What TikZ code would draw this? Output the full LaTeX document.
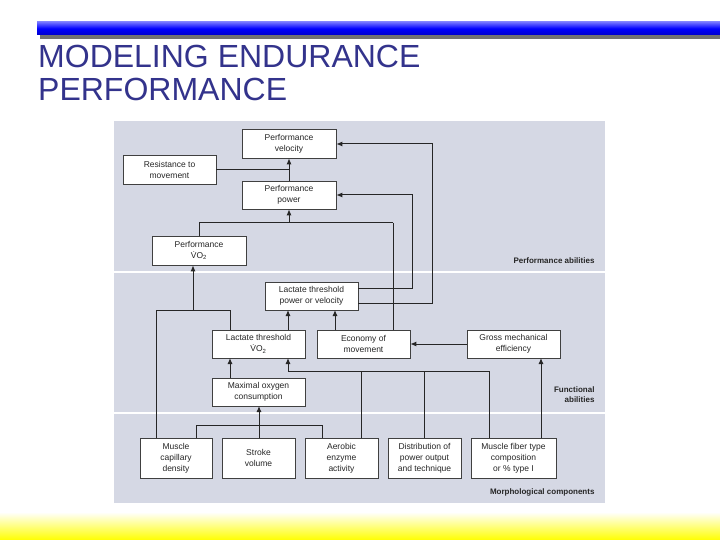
\documentclass[tikz,border=0pt]{standalone}
\usepackage{fontspec}
\setmainfont{Liberation Sans}
\usetikzlibrary{arrows.meta}
\definecolor{ttl}{RGB}{51,51,140}
\begin{document}
\begin{tikzpicture}[x=1pt,y=-1pt,
  bx/.style={draw=black!75,line width=0.6pt,fill=white,inner sep=0pt,align=center,font=\fontsize{8.5}{11}\selectfont,text=black!85},
  ln/.style={draw=black!85,line width=1pt},
  ar/.style={ln,-{Latex[length=6pt,width=5pt]}},
  lbl/.style={font=\fontsize{8}{10}\selectfont\bfseries,align=right,anchor=east,text=black!85}]
\useasboundingbox (0,0) rectangle (720,540);
\fill[white] (0,0) rectangle (720,540);
% header bar
\fill[black!55] (40,34) rectangle (720,39);
\shade[top color=blue!55!white,bottom color=blue!80!black,middle color=blue] (37,22) rectangle (720,35);
\node[anchor=north west,align=left,inner sep=0pt,text=ttl,font=\fontsize{32}{33}\selectfont] (title) at (38,45) {MODELING ENDURANCE\\PERFORMANCE};
% footer
\shade[top color=white,bottom color=yellow] (0,512) rectangle (720,540);
% panel
\fill[fill={rgb,255:red,213;green,216;blue,228}] (114,121) rectangle (605,503);
\draw[white,line width=2pt] (114,272) -- (605,272) (114,413) -- (605,413);
% boxes
\node[bx,minimum width=94,minimum height=29] (vel) at (289,143.5) {Performance\\velocity};
\node[bx,minimum width=93,minimum height=29] (res) at (169.5,169.5) {Resistance to\\movement};
\node[bx,minimum width=94,minimum height=28] (pow) at (289,195) {Performance\\power};
\node[bx,minimum width=94,minimum height=29] (pvo) at (199,250.5) {Performance\\\.{V}O\textsubscript{2}};
\node[bx,minimum width=93,minimum height=28] (ltp) at (311.5,296) {Lactate threshold\\power or velocity};
\node[bx,minimum width=93,minimum height=28] (ltv) at (258.5,344) {Lactate threshold\\\.{V}O\textsubscript{2}};
\node[bx,minimum width=93,minimum height=28] (eco) at (363.5,344) {Economy of\\movement};
\node[bx,minimum width=93,minimum height=28] (gro) at (513.5,344) {Gross mechanical\\efficiency};
\node[bx,minimum width=93,minimum height=28] (mox) at (258.5,392) {Maximal oxygen\\consumption};
\node[bx,minimum width=72,minimum height=40] (cap) at (176,458) {Muscle\\capillary\\density};
\node[bx,minimum width=73,minimum height=40] (str) at (258.5,458) {Stroke\\volume};
\node[bx,minimum width=73,minimum height=40] (aer) at (341.5,458) {Aerobic\\enzyme\\activity};
\node[bx,minimum width=73,minimum height=40] (dis) at (424.5,458) {Distribution of\\power output\\and technique};
\node[bx,minimum width=85,minimum height=40] (fib) at (513.5,458) {Muscle fiber type\\composition\\or \% type I};
% labels
\node[lbl] (l1) at (598,261) {Performance abilities};
\node[lbl] (l2) at (598,394.5) {Functional\\abilities};
\node[lbl] (l3) at (598,492) {Morphological components};
% connectors
\draw[ar] (pow.north) -- (vel.south);
\draw[ln] (res.east) -- (289,169.5);
\draw[ar] (ltp.east|-0,288) -| (412,195) -- (pow.east|-0,195);
\draw[ar] (ltp.east|-0,303) -| (432,144) -- (vel.east|-0,144);
\draw[ln] (pvo.north|-0,236) |- (289,223);
\draw[ar] (289,223) -- (pow.south);
\draw[ln] (393,223) -- (289,223);
\draw[ln] (393,223) -- (393,330);
\coordinate (c1) at (193,310);
\draw[ln] (156,438) |- (230,310) -- (230,330);
\draw[ar] (c1) -- (pvo.south-|c1);
\draw[ar] (288,330) -- (288,310);
\draw[ar] (335,330) -- (335,310);
\draw[ar] (gro.west) -- (eco.east);
\draw[ar] (541,438) -- (541,358);
\draw[ar] (mox.north-|230,0) -- (230,358);
\draw[ln] (196,438) |- (322,425) -- (322,438);
\draw[ar] (259,438) -- (259,406);
\draw[ln] (361,438) |- (489,371) -- (489,438);
\draw[ln] (424,438) -- (424,371);
\draw[ar] (361,371) -| (288,358);
\end{tikzpicture}
\end{document}
